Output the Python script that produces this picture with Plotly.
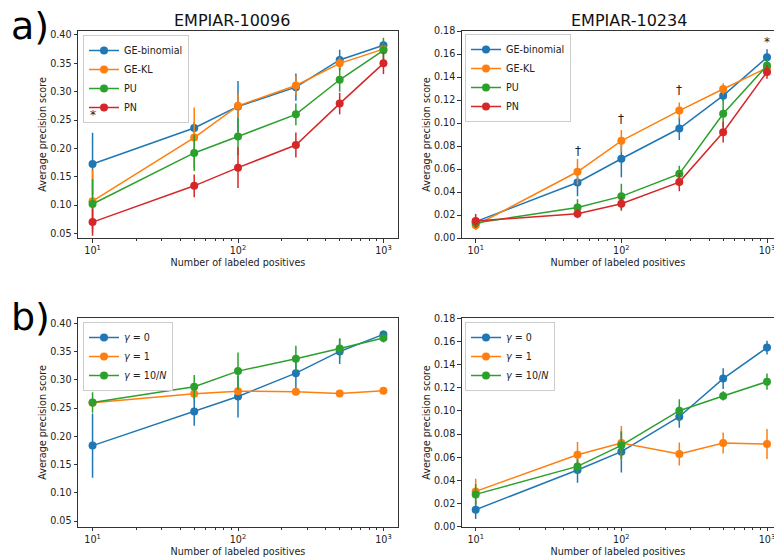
import math
import plotly.graph_objects as go

# ---------------- data ----------------
x_pos = [10, 50, 100, 250, 500, 1000]

# Panel a) EMPIAR-10096
a1_labels = ["GE-binomial", "GE-KL", "PU", "PN"]
a1_ge_bin = [0.1725, 0.236, 0.274, 0.308, 0.356, 0.382]
a1_ge_bin_err = [0.055, 0.010, 0.045, 0.024, 0.018, 0.008]
a1_ge_kl = [0.107, 0.219, 0.275, 0.311, 0.350, 0.375]
a1_ge_kl_err = [0.055, 0.053, 0.022, 0.017, 0.010, 0.008]
a1_pu = [0.102, 0.192, 0.221, 0.260, 0.321, 0.373]
a1_pu_err = [0.044, 0.032, 0.033, 0.019, 0.021, 0.022]
a1_pn = [0.070, 0.134, 0.166, 0.206, 0.279, 0.350]
a1_pn_err = [0.024, 0.020, 0.036, 0.022, 0.019, 0.019]

# Panel a) EMPIAR-10234
a2_ge_bin = [0.0142, 0.0483, 0.0689, 0.0952, 0.1238, 0.1571]
a2_ge_bin_err = [0.004, 0.012, 0.016, 0.010, 0.005, 0.007]
a2_ge_kl = [0.011, 0.0576, 0.0845, 0.1108, 0.1296, 0.148]
a2_ge_kl_err = [0.004, 0.011, 0.0095, 0.007, 0.005, 0.005]
a2_pu = [0.013, 0.0266, 0.0362, 0.0558, 0.108, 0.150]
a2_pu_err = [0.004, 0.007, 0.011, 0.007, 0.012, 0.006]
a2_pn = [0.0148, 0.0211, 0.0298, 0.0486, 0.092, 0.1444]
a2_pn_err = [0.006, 0.004, 0.006, 0.008, 0.009, 0.006]

# Panel b) EMPIAR-10096
b_labels = ["<i>γ</i> = 0", "<i>γ</i> = 1", "<i>γ</i> = 10/<i>N</i>"]
b1_g0 = [0.1836, 0.2439, 0.2705, 0.3119, 0.3503, 0.3805]
b1_g0_err = [0.057, 0.025, 0.037, 0.028, 0.022, 0.007]
b1_g1 = [0.2593, 0.2752, 0.2800, 0.2788, 0.2758, 0.2806]
b1_g1_err = [0.003, 0.003, 0.003, 0.003, 0.003, 0.003]
b1_gn = [0.2599, 0.2877, 0.3155, 0.3373, 0.3557, 0.3740]
b1_gn_err = [0.018, 0.021, 0.033, 0.023, 0.018, 0.008]

# Panel b) EMPIAR-10234
b2_g0 = [0.0147, 0.049, 0.0648, 0.095, 0.1279, 0.1547]
b2_g0_err = [0.008, 0.011, 0.018, 0.0095, 0.009, 0.006]
b2_g1 = [0.0305, 0.0622, 0.0723, 0.0628, 0.0723, 0.0714]
b2_g1_err = [0.011, 0.011, 0.0147, 0.010, 0.009, 0.013]
b2_gn = [0.0279, 0.0521, 0.0703, 0.1002, 0.1129, 0.1253]
b2_gn_err = [0.009, 0.006, 0.012, 0.0098, 0.004, 0.007]

titles = ["EMPIAR-10096", "EMPIAR-10234"]
x_title = "Number of labeled positives"
y_title = "Average precision score"
major_ticks = [10, 100, 1000]
major_text = ["10<sup>1</sup>", "10<sup>2</sup>", "10<sup>3</sup>"]
minor_ticks = [20, 30, 40, 50, 60, 70, 80, 90, 200, 300, 400, 500, 600, 700, 800, 900]

# significance marks: (panel, x, y, text)
marks = [
    (1, 10, 0.259, "*"),
    (2, 50, 0.0758, "†"),
    (2, 100, 0.1036, "†"),
    (2, 250, 0.129, "†"),
    (2, 1000, 0.1707, "*"),
]

colors = ["#1f77b4", "#ff7f0e", "#2ca02c", "#d62728"]
FONT = "DejaVu Sans"
FS = 9.6
W, H = 774, 559

fig = go.Figure()

def add_series(xa, ya, legend, names, ys, errs):
    for i, (nm, y, e) in enumerate(zip(names, ys, errs)):
        fig.add_trace(go.Scatter(
            x=x_pos, y=y, name=nm, mode="lines+markers",
            xaxis=xa, yaxis=ya, legend=legend,
            line=dict(color=colors[i], width=1.5),
            marker=dict(color=colors[i], size=8),
            error_y=dict(type="data", array=e, visible=True,
                         color=colors[i], thickness=1.5, width=0),
        ))

add_series("x", "y", "legend", a1_labels,
           [a1_ge_bin, a1_ge_kl, a1_pu, a1_pn],
           [a1_ge_bin_err, a1_ge_kl_err, a1_pu_err, a1_pn_err])
add_series("x2", "y2", "legend2", a1_labels,
           [a2_ge_bin, a2_ge_kl, a2_pu, a2_pn],
           [a2_ge_bin_err, a2_ge_kl_err, a2_pu_err, a2_pn_err])
add_series("x3", "y3", "legend3", b_labels,
           [b1_g0, b1_g1, b1_gn], [b1_g0_err, b1_g1_err, b1_gn_err])
add_series("x4", "y4", "legend4", b_labels,
           [b2_g0, b2_g1, b2_gn], [b2_g0_err, b2_g1_err, b2_gn_err])

# domains in pixels
xl = (78 / W, 398 / W)
xr = (461.7 / W, 1.0)
yt = (1 - 238 / H, 1 - 31 / H)
yb = (1 - 526.7 / H, 1 - 318.3 / H)

axcol = "#333333"
txtcol = "#222222"

def xaxis(domain, rng, anchor):
    return dict(
        type="log", domain=domain, range=rng, anchor=anchor, automargin=False,
        tickvals=major_ticks, ticktext=major_text, ticklabeloverflow="allow",
        ticks="outside", ticklen=3.5, tickwidth=1, tickcolor=axcol,
        minor=dict(tickvals=minor_ticks, ticks="outside", ticklen=2,
                   tickwidth=0.8, tickcolor=axcol),
        showline=True, linecolor=axcol, linewidth=1, mirror=True,
        showgrid=False, zeroline=False,
        tickfont=dict(family=FONT, size=FS, color=txtcol),
        title=dict(text=x_title, font=dict(family=FONT, size=FS, color=txtcol),
                   standoff=4),
    )

def yaxis(domain, rng, anchor, dtick, mirror):
    return dict(
        domain=domain, range=rng, anchor=anchor, dtick=dtick, tick0=0,
        automargin=False,
        tickformat=".2f", ticks="outside", ticklen=3.5, tickwidth=1,
        tickcolor=axcol, showline=True, linecolor=axcol, linewidth=1,
        mirror=mirror, showgrid=False, zeroline=False,
        tickfont=dict(family=FONT, size=FS, color=txtcol),
        title=dict(text=y_title, font=dict(family=FONT, size=FS, color=txtcol),
                   standoff=1),
    )

fig.update_layout(
    width=W, height=H, margin=dict(l=0, r=0, t=0, b=0, autoexpand=False),
    paper_bgcolor="white", plot_bgcolor="white",
    font=dict(family=FONT, size=FS, color=txtcol),
    xaxis=xaxis(xl, [0.9, 3.1], "y"),
    yaxis=yaxis(yt, [0.042, 0.407], "x", 0.05, True),
    xaxis2=xaxis(xr, [0.904, 3.048], "y2"),
    yaxis2=yaxis(yt, [0, 0.18], "x2", 0.02, False),
    xaxis3=xaxis(xl, [0.9, 3.1], "y3"),
    yaxis3=yaxis(yb, [0.040, 0.409], "x3", 0.05, True),
    xaxis4=xaxis(xr, [0.904, 3.048], "y4"),
    yaxis4=yaxis(yb, [0, 0.18], "x4", 0.02, False),
)

def legend_cfg(xp, yp):
    return dict(x=xp / W, y=1 - yp / H, xanchor="left", yanchor="top",
                bgcolor="rgba(255,255,255,0.8)", bordercolor="#cccccc", borderwidth=1,
                font=dict(family=FONT, size=FS, color=txtcol),
                tracegroupgap=0, itemwidth=30)

fig.update_layout(
    legend=legend_cfg(83, 35),
    legend2=legend_cfg(465, 34),
    legend3=legend_cfg(83, 322),
    legend4=legend_cfg(465, 322),
)

def paper_text(text, xp, yp, size, color):
    fig.add_annotation(text=text, x=xp / W, y=1 - yp / H, xref="paper", yref="paper",
                       xanchor="center", yanchor="middle", showarrow=False,
                       font=dict(family=FONT, size=size, color=color))

paper_text(titles[0], 232, 20, 16, "#111")
paper_text(titles[1], 629, 20, 16, "#111")
paper_text("a)", 30, 26, 38, "#000")
paper_text("b)", 30, 317, 38, "#000")

for panel, xv, yv, t in marks:
    xr_ = "x" if panel == 1 else "x2"
    yr_ = "y" if panel == 1 else "y2"
    fig.add_annotation(text=t, x=math.log10(xv), y=yv, xref=xr_, yref=yr_,
                       xanchor="center", yanchor="middle",
                       showarrow=False, font=dict(family=FONT, size=12, color=txtcol))

fig.write_html(
    "out.html",
    config={"displayModeBar": False},
    post_script="document.body.style.margin='0';document.body.style.overflow='hidden';",
)
